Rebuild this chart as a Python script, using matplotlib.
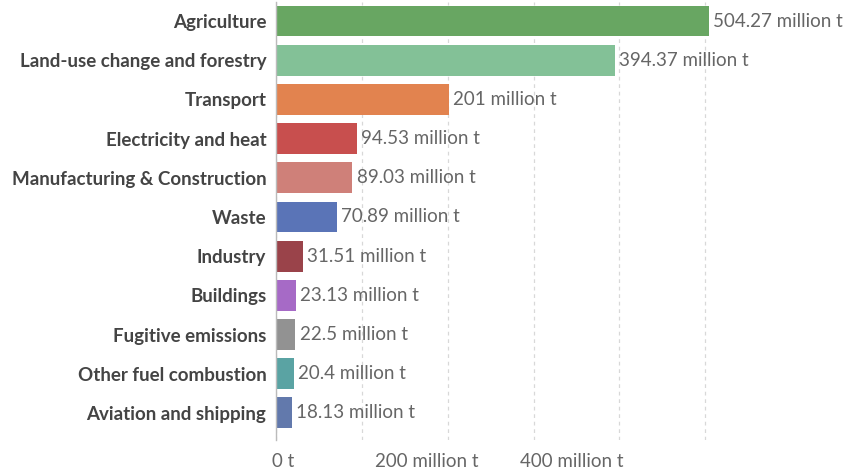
import matplotlib.pyplot as plt
from matplotlib.ticker import FixedLocator

sectors = ['Agriculture', 'Land-use change and forestry', 'Transport',
           'Electricity and heat', 'Manufacturing & Construction', 'Waste',
           'Industry', 'Buildings', 'Fugitive emissions',
           'Other fuel combustion', 'Aviation and shipping']
emissions = [504.27, 394.37, 201, 94.53, 89.03, 70.89, 31.51, 23.13, 22.5, 20.4, 18.13]
value_labels = ['504.27 million t', '394.37 million t', '201 million t',
                '94.53 million t', '89.03 million t', '70.89 million t',
                '31.51 million t', '23.13 million t', '22.5 million t',
                '20.4 million t', '18.13 million t']
bar_colors = ['#68a662', '#83c197', '#e2834f', '#c84f4e', '#cf8079', '#5a74b7',
              '#9a434a', '#a66ac6', '#929292', '#5aa3a3', '#6279ac']
grid_values = [0, 100, 200, 300, 400, 500]
tick_values = [0, 200, 400]
tick_labels = ['0 t', '200 million t', '400 million t']

plt.rcParams['font.family'] = ['Lato', 'DejaVu Sans']

fig = plt.figure(figsize=(8.47, 4.75), dpi=100)
ax = fig.add_axes([276 / 847, 35 / 475, 564 / 847, 438 / 475])

y = list(range(len(sectors)))
ax.barh(y, emissions, height=0.79, color=bar_colors, zorder=2)

for yi, v, lab in zip(y, emissions, value_labels):
    ax.text(v + 5, yi, lab, va='center', ha='left', fontsize=13.5,
            color='#666666', zorder=3)

ax.set_xlim(0, 564 / 0.8587)
ax.set_ylim(10.69, -0.485)

ax.set_yticks(y)
ax.set_yticklabels(sectors, fontsize=13.5, fontweight='bold', color='#444444')
ax.tick_params(axis='y', length=0, pad=7)

# dashed grid every 100, labels only on 0/200/400
ax.xaxis.set_major_locator(FixedLocator(grid_values))
ax.set_xticklabels([])
ax.tick_params(axis='x', length=0)
ax.grid(axis='x', color='#d8d8d8', linestyle=(0, (3, 3)), linewidth=0.9, zorder=0)
ax.set_axisbelow(True)
for tv, tl in zip(tick_values, tick_labels):
    ax.text(tv * 0.84 + 8, -0.05, tl, transform=ax.get_xaxis_transform(),
            ha='center', va='center', fontsize=13.5, color='#666666')

for s in ['top', 'right', 'bottom']:
    ax.spines[s].set_visible(False)
ax.spines['left'].set_color('#bbbbbb')
ax.spines['left'].set_linewidth(1)

fig.savefig('out.png', dpi=100)
